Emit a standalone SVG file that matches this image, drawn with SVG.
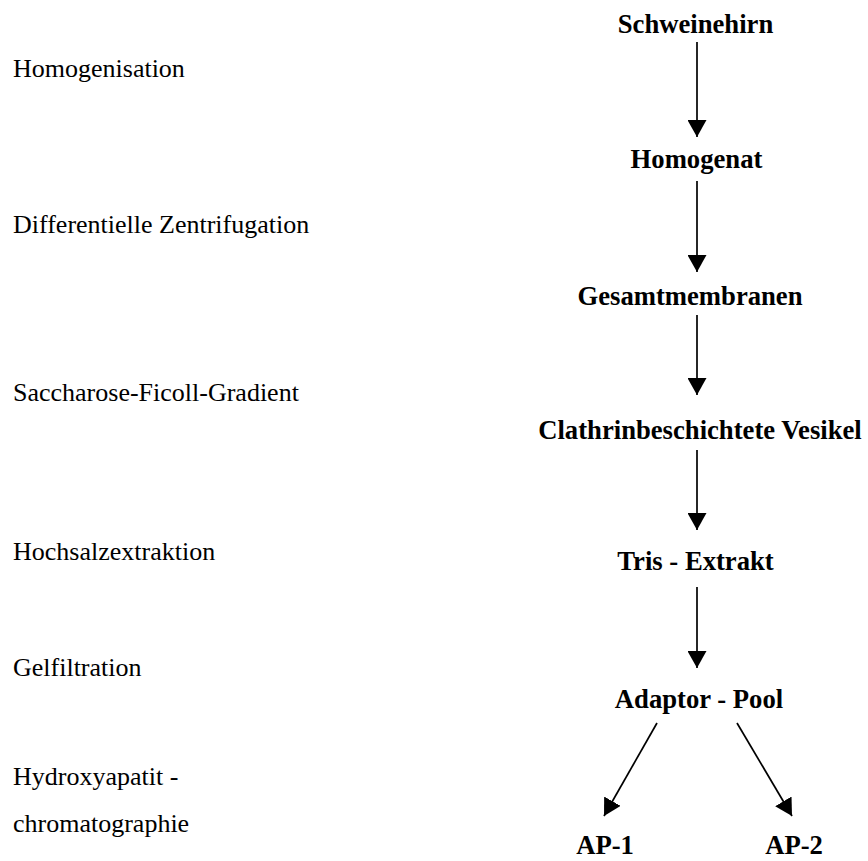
<svg xmlns="http://www.w3.org/2000/svg" width="868" height="861" viewBox="0 0 868 861">
<defs>
<style>
.step{font-family:"Liberation Serif","Times New Roman",serif;font-size:26px;fill:#000}
.node{font-family:"Liberation Serif","Times New Roman",serif;font-size:26.67px;font-weight:bold;fill:#000;text-anchor:middle}
.conn{stroke:#000;stroke-width:1.7;fill:none;marker-end:url(#ah)}
</style>
<marker id="ah" viewBox="0 0 17 19" refX="17" refY="9.5" markerUnits="userSpaceOnUse" markerWidth="17" markerHeight="19" orient="auto">
<path d="M0,0 L17,9.5 L0,19 z" fill="#000"/>
</marker>
</defs>
<rect width="868" height="861" fill="#fff"/>
<g id="steps">
<text class="step" x="13" y="77">Homogenisation</text>
<text class="step" x="13" y="233">Differentielle Zentrifugation</text>
<text class="step" x="13" y="401">Saccharose-Ficoll-Gradient</text>
<text class="step" x="13" y="560">Hochsalzextraktion</text>
<text class="step" x="13" y="676">Gelfiltration</text>
<text class="step" x="13" y="785">Hydroxyapatit -</text>
<text class="step" x="13" y="832">chromatographie</text>
</g>
<g id="n1"><text class="node" x="695.5" y="33">Schweinehirn</text></g>
<g id="n2"><text class="node" x="696.5" y="168">Homogenat</text></g>
<g id="n3"><text class="node" x="690" y="305">Gesamtmembranen</text></g>
<g id="n4"><text class="node" x="700" y="439">Clathrinbeschichtete Vesikel</text></g>
<g id="n5"><text class="node" x="695.5" y="570">Tris - Extrakt</text></g>
<g id="n6"><text class="node" x="699" y="708">Adaptor - Pool</text></g>
<g id="n7"><text class="node" x="605" y="854">AP-1</text></g>
<g id="n8"><text class="node" x="794" y="854">AP-2</text></g>
<g id="connectors">
<line class="conn" x1="697" y1="42" x2="697" y2="137"/>
<line class="conn" x1="697" y1="181" x2="697" y2="272"/>
<line class="conn" x1="697" y1="315" x2="697" y2="395"/>
<line class="conn" x1="697" y1="450" x2="697" y2="530"/>
<line class="conn" x1="697" y1="587" x2="697" y2="668"/>
<line class="conn" x1="657" y1="723" x2="604" y2="816"/>
<line class="conn" x1="737" y1="723" x2="792" y2="816"/>
</g>
</svg>
